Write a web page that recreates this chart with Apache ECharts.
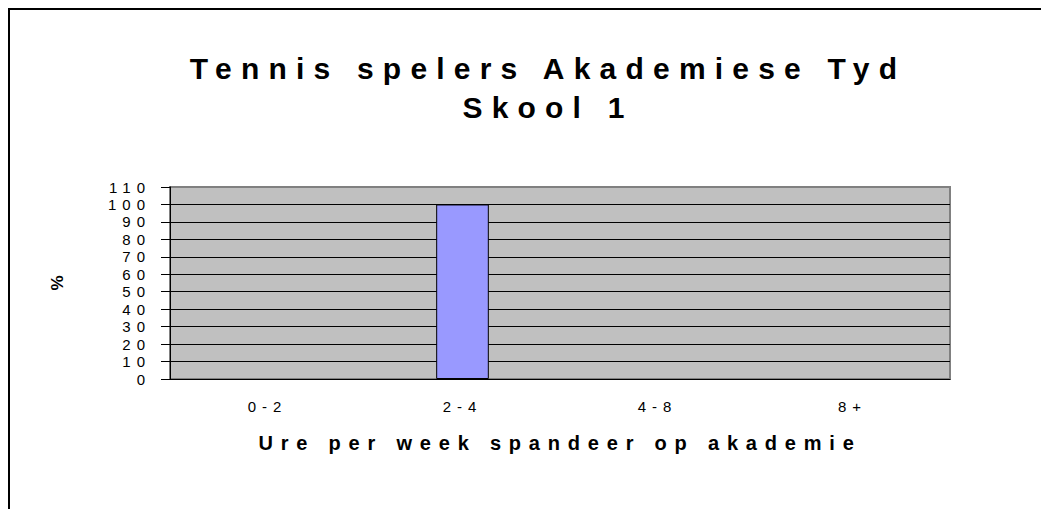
<!DOCTYPE html>
<html>
<head>
<meta charset="utf-8">
<script src="https://cdn.jsdelivr.net/npm/echarts@6/dist/echarts.min.js"></script>
<style>
  html, body { margin: 0; padding: 0; background: #fff; }
  #chart { width: 1041px; height: 509px; }
  /* the original spreads every letter out */
  #chart text[style*="30px"] { letter-spacing: 9.2px; }
  #chart text[style*="20px"] { letter-spacing: 7.8px; }
  #chart text[style*="15px"] { letter-spacing: 6px; }
</style>
</head>
<body>
<div id="chart"></div>
<script>
const titleLines = ['Tennis spelers Akademiese Tyd', 'Skool 1'];
const categories = ['0-2', '2-4', '4-8', '8+'];
const percentages = [0, 100, 0, 0];
const xAxisTitle = 'Ure per week spandeer op akademie';
const yAxisTitle = '%';

const font = 'Liberation Sans, Arial, sans-serif';

const myChart = echarts.init(document.getElementById('chart'), null, {renderer: 'svg'});
const option = {
  animation: false,
  backgroundColor: '#fff',
  title: {
    text: titleLines.join('\n'),
    left: 548,
    top: 49,
    padding: 0,
    textAlign: 'center',
    textVerticalAlign: 'top',
    textStyle: {
      color: '#000',
      fontFamily: font,
      fontWeight: 'bold',
      fontSize: 30,
      lineHeight: 39
    }
  },
  graphic: [
    {
      type: 'rect',
      shape: {x: 9, y: 9, width: 1200, height: 700},
      style: {fill: 'none', stroke: '#000', lineWidth: 2},
      silent: true,
      z: -1
    }
  ],
  grid: {
    left: 170,
    right: 91,
    top: 187,
    bottom: 130,
    show: true,
    backgroundColor: '#C0C0C0',
    borderColor: '#808080',
    borderWidth: 2
  },
  xAxis: {
    type: 'category',
    data: categories,
    name: xAxisTitle,
    nameLocation: 'middle',
    nameGap: 54,
    nameTextStyle: {
      color: '#000',
      fontFamily: font,
      fontWeight: 'bold',
      fontSize: 20
    },
    axisLine: {lineStyle: {color: '#000', width: 1}},
    axisTick: {length: 5, lineStyle: {color: '#000'}},
    axisLabel: {
      color: '#000',
      fontFamily: font,
      fontSize: 15,
      margin: 20
    }
  },
  yAxis: {
    type: 'value',
    min: 0,
    max: 110,
    interval: 10,
    name: yAxisTitle,
    nameLocation: 'middle',
    nameRotate: 90,
    nameGap: 104,
    nameTextStyle: {
      color: '#000',
      fontFamily: font,
      fontWeight: 'bold',
      fontSize: 17
    },
    axisLine: {show: true, lineStyle: {color: '#000', width: 1}},
    axisTick: {show: true, length: 9, lineStyle: {color: '#000'}},
    axisLabel: {
      color: '#000',
      fontFamily: font,
      fontSize: 15,
      margin: 19
    },
    splitLine: {
      show: true,
      showMaxLine: false,
      lineStyle: {color: '#000', width: 1}
    }
  },
  series: [
    {
      type: 'bar',
      // empty bars get no outline, like the original
      data: percentages.map(v => ({value: v, itemStyle: v ? {} : {borderWidth: 0}})),
      barWidth: '27%',
      itemStyle: {
        color: '#9999FF',
        borderColor: '#000',
        borderWidth: 1
      }
    }
  ]
};
myChart.setOption(option);

window.addEventListener('resize', () => {
  myChart.resize();
});
</script>
</body>
</html>
